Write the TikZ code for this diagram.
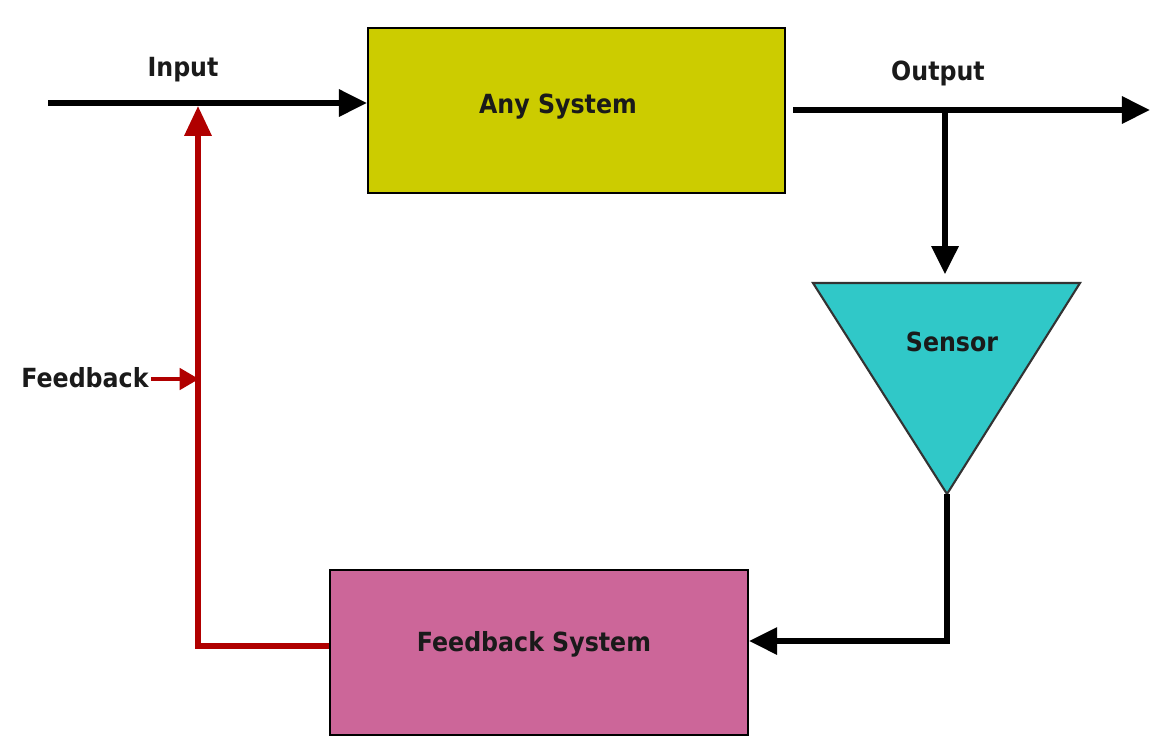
\documentclass[tikz,border=0pt]{standalone}
\usepackage{fontspec}
\newfontfamily\lblfont{DejaVu Sans Condensed}
\usetikzlibrary{arrows.meta}
\definecolor{sysyellow}{HTML}{CCCC00}
\definecolor{sensorcyan}{HTML}{30C8C8}
\definecolor{fbpink}{HTML}{CC6699}
\definecolor{fbred}{HTML}{B00000}
\definecolor{txt}{HTML}{1A1A1A}
\tikzset{
  lbl/.style={font=\lblfont\bfseries\fontsize{15}{18}\selectfont, text=txt, inner sep=0pt, anchor=base},
  boxstyle/.style={draw=black, line width=1.2pt, inner sep=0pt},
  blk/.style={draw=black, line width=3pt, line join=miter, -{Triangle[length=16pt,width=15pt]}},
  redl/.style={draw=fbred, line width=3pt, line join=miter},
}
\begin{document}
\begin{tikzpicture}[x=0.02cm, y=-0.02cm]
\useasboundingbox (0,0) rectangle (1150,738);
% boxes
\node[boxstyle, fill=sysyellow, minimum width=8.34cm, minimum height=3.3cm] (sys) at (576.5,110.5) {};
\node[boxstyle, fill=fbpink, minimum width=8.36cm, minimum height=3.3cm] (fb) at (539,652.5) {};
\node[lbl] (sysl) at (558,113) {Any System};
\node[lbl] (fbl) at (534,651) {Feedback System};
% sensor triangle
\coordinate (sTL) at (813,283);
\coordinate (sTR) at (1080,283);
\coordinate (sBot) at (947,494);
\coordinate (sTop) at (945,283);
\draw[fill=sensorcyan, draw=black!80, line width=1.2pt, line join=miter] (sTL) -- (sTR) -- (sBot) -- cycle;
\node[lbl] (sensor) at (952,351) {Sensor};
% labels
\node[lbl] (inlbl) at (183,76) {Input};
\node[lbl] (outlbl) at (938,80) {Output};
\node[lbl] (fblbl) at (85,387) {Feedback};
% input line
\coordinate (inStart) at (48,103);
\draw[blk] (inStart) -- (inStart -| sys.west);
% output line
\coordinate (outStart) at (793,110);
\coordinate (outEnd) at (1150,110);
\coordinate (oj) at (945,110);
\draw[blk] (outStart) -- (outEnd);
\draw[blk, shorten >=5pt] (oj) -- (sTop);
% sensor to feedback system
\coordinate (sc) at (947,641);
\draw[blk] (sBot) -- (sc) -- (sc -| fb.east);
% red feedback path
\coordinate (rb) at (198,646);
\coordinate (rt) at (198,106);
\draw[redl, -{Triangle[length=17pt,width=15pt]}] (fb.west |- rb) -- (rb) -- (rt);
\coordinate (rm) at (199,379);
\draw[draw=fbred, line width=2.5pt, -{Triangle[length=11pt,width=12pt]}] (fblbl.east |- rm) ++(2,0) -- (rm);
\end{tikzpicture}
\end{document}
